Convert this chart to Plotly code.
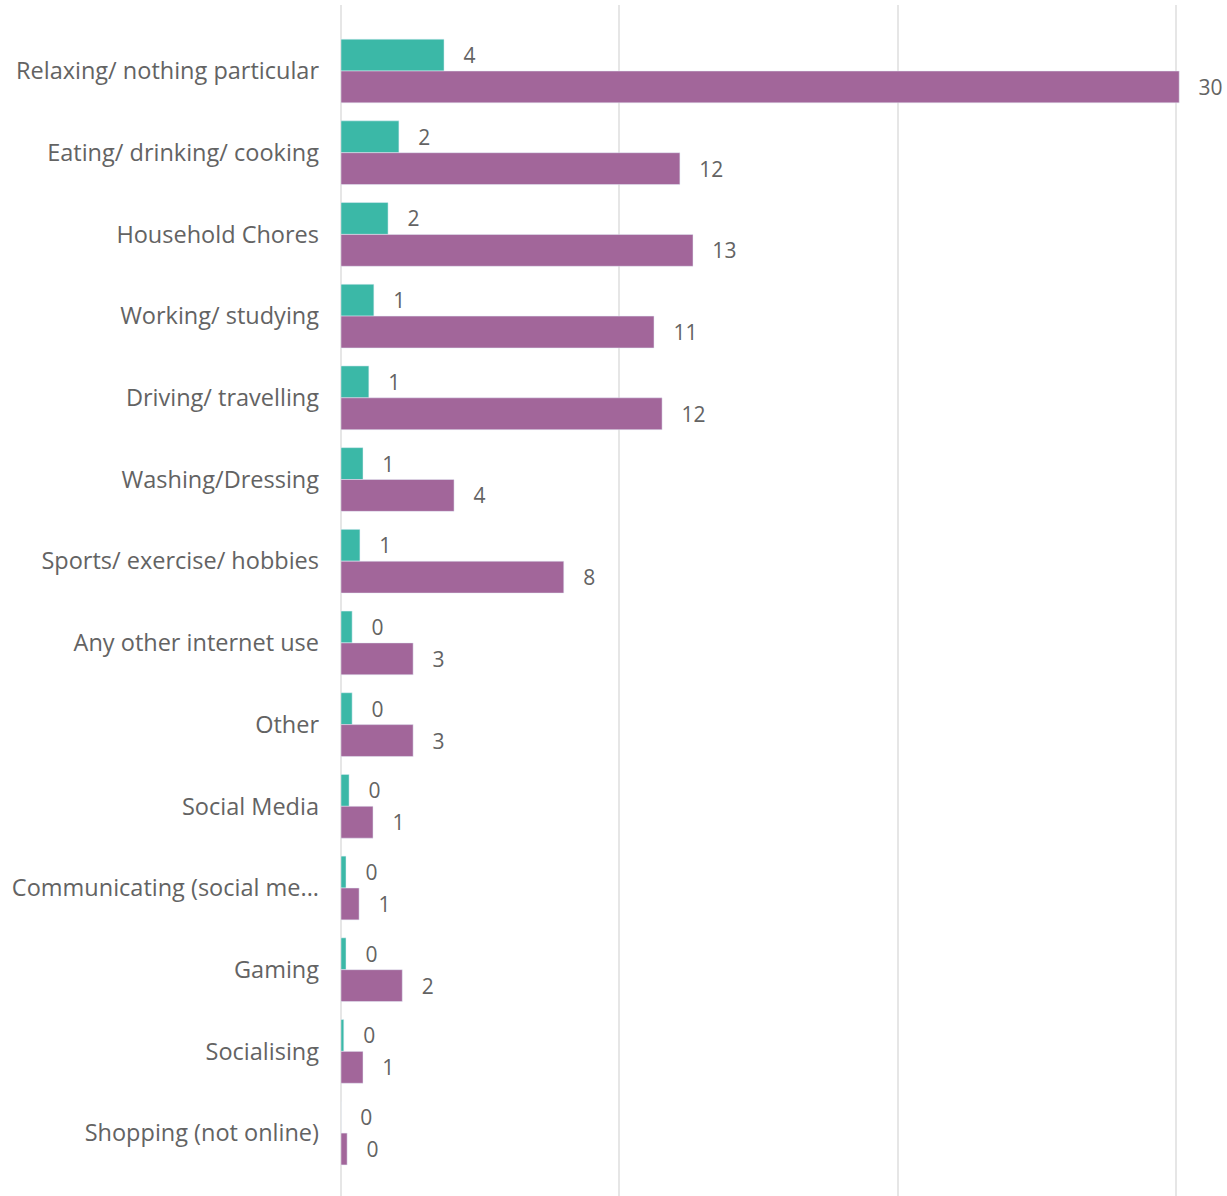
import plotly.graph_objects as go

categories = [
    "Relaxing/ nothing particular",
    "Eating/ drinking/ cooking",
    "Household Chores",
    "Working/ studying",
    "Driving/ travelling",
    "Washing/Dressing",
    "Sports/ exercise/ hobbies",
    "Any other internet use",
    "Other",
    "Social Media",
    "Communicating (social me...",
    "Gaming",
    "Socialising",
    "Shopping (not online)",
]
series_a = [3.7, 2.08, 1.69, 1.18, 1.0, 0.79, 0.68, 0.4, 0.4, 0.29, 0.18, 0.18, 0.1, 0.0]
series_b = [30.1, 12.17, 12.64, 11.24, 11.53, 4.06, 8.0, 2.59, 2.59, 1.15, 0.65, 2.2, 0.79, 0.22]

teal = "#3BB8A7"
purple = "#A2669A"
label_color = "#636363"
font_family = "Open Sans, Noto Sans, sans-serif"
pad = "\u00a0\u00a0\u00a0"

fig = go.Figure()
fig.add_trace(go.Bar(
    y=categories, x=series_a, orientation="h", marker_color=teal,
    texttemplate=pad + "%{x:.0f}", textposition="outside", cliponaxis=False,
    textfont=dict(size=21, color=label_color, family=font_family), name="A",
))
fig.add_trace(go.Bar(
    y=categories, x=series_b, orientation="h", marker_color=purple,
    texttemplate=pad + "%{x:.0f}", textposition="outside", cliponaxis=False,
    textfont=dict(size=21, color=label_color, family=font_family), name="B",
))

fig.update_layout(
    width=1227, height=1196,
    margin=dict(l=341, r=6, t=5, b=0),
    barmode="group", bargap=0.22, bargroupgap=0,
    plot_bgcolor="white", paper_bgcolor="white",
    showlegend=False,
)
fig.update_xaxes(
    range=[0, 31.6], showticklabels=False, showgrid=True,
    gridcolor="#e6e6e6", gridwidth=1.5, dtick=10, tick0=0,
    zeroline=True, zerolinecolor="#e6e6e6", zerolinewidth=1.5,
)
fig.update_yaxes(
    range=[13.77, -0.808], type="category", showgrid=False,
    ticklabelstandoff=21,
    tickfont=dict(size=23.5, color=label_color, family=font_family),
)

fig.write_html(
    "out.html",
    config={"displayModeBar": False},
    post_script="document.body.style.margin='0';document.body.style.overflow='hidden';",
)
